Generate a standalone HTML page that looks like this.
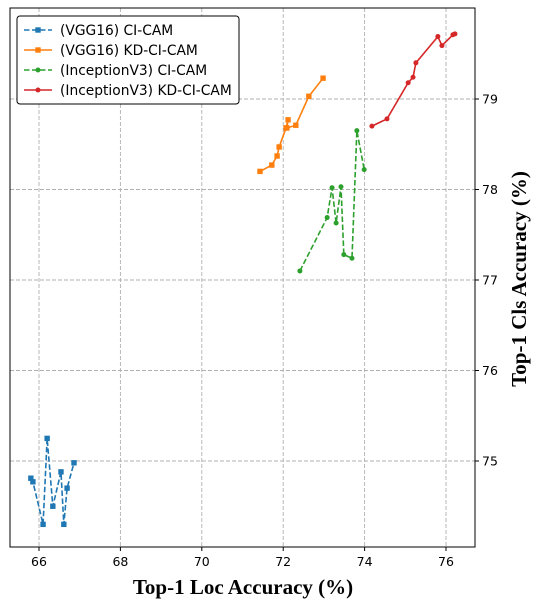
<!DOCTYPE html>
<html><head><meta charset="utf-8">
<style>
html,body{margin:0;padding:0;background:#fff;}
svg{display:block;}
text{font-family:"DejaVu Sans","Liberation Sans",sans-serif;}
.lab{font-family:"Liberation Serif",serif;font-weight:bold;font-size:21px;}
</style></head>
<body>
<svg id="chart" width="540" height="607" xmlns="http://www.w3.org/2000/svg">
<g id="grid"></g>
<g id="series"></g>
<rect x="10" y="8" width="465" height="539" fill="none" stroke="#000" stroke-width="1"/>
<g id="ticks"></g>
<text class="lab" x="243" y="594" text-anchor="middle">Top-1 Loc Accuracy (%)</text>
<text class="lab" x="0" y="0" transform="translate(526,279) rotate(-90)" text-anchor="middle">Top-1 Cls Accuracy (%)</text>
<g id="legend"></g>
</svg>
<script>
const xTicks=[66,68,70,72,74,76];
const yTicks=[75,76,77,78,79];
const names=["(VGG16) CI-CAM","(VGG16) KD-CI-CAM","(InceptionV3) CI-CAM","(InceptionV3) KD-CI-CAM"];
const colors=["#1f77b4","#ff7f0e","#2ca02c","#d62728"];
const dashed=[true,false,true,false];
const markers=["s","s","o","o"];
const vggCiX=[65.80,65.85,66.10,66.20,66.34,66.54,66.61,66.69,66.86];
const vggCiY=[74.81,74.77,74.30,75.25,74.50,74.88,74.30,74.70,74.98];
const vggKdX=[71.43,71.72,71.85,71.90,72.07,72.12,72.09,72.31,72.63,72.98];
const vggKdY=[78.20,78.27,78.37,78.47,78.68,78.77,78.68,78.71,79.03,79.23];
const incCiX=[72.41,73.08,73.20,73.30,73.42,73.49,73.69,73.81,73.99];
const incCiY=[77.10,77.69,78.02,77.63,78.03,77.28,77.24,78.65,78.22];
const incKdX=[74.18,74.55,75.07,75.19,75.26,75.80,75.90,76.17,76.22];
const incKdY=[78.70,78.78,79.18,79.24,79.40,79.69,79.59,79.71,79.72];
const seriesX=[vggCiX,vggKdX,incCiX,incKdX];
const seriesY=[vggCiY,vggKdY,incCiY,incKdY];
const NS="http://www.w3.org/2000/svg";
function sx(v){return 39+(v-66)*40.7;}
function sy(v){return 461-(v-75)*90.5;}
function mk(tag,attrs,parent){const e=document.createElementNS(NS,tag);for(const k in attrs)e.setAttribute(k,attrs[k]);parent.appendChild(e);return e;}
const grid=document.getElementById('grid'),ticks=document.getElementById('ticks'),ser=document.getElementById('series'),leg=document.getElementById('legend');
xTicks.forEach(t=>{const x=sx(t);
 const g=mk('line',{x1:x,x2:x,y1:8,y2:547,stroke:'#b0b0b0','stroke-dasharray':'4,2','stroke-width':0.9},grid);
 
 
 const tk=mk('line',{x1:x,x2:x,y1:547,y2:551,stroke:'#000'},ticks);
 
 
 const tx=mk('text',{x:x,y:566,'text-anchor':'middle','font-size':12.5},ticks);tx.textContent=t;
 
 
});
yTicks.forEach(t=>{const y=sy(t);
 const g=mk('line',{x1:10,x2:475,y1:y,y2:y,stroke:'#b0b0b0','stroke-dasharray':'4,2','stroke-width':0.9},grid);
 
 
 const tk=mk('line',{x1:475,x2:479,y1:y,y2:y,stroke:'#000'},ticks);
 
 
 const tx=mk('text',{x:482,y:y+4.5,'font-size':12.5},ticks);tx.textContent=t;
 
 
});
function marker(p,m,x,y,c,s){
 if(m==='s'){return mk('rect',{x:x-s,y:y-s,width:2*s,height:2*s,fill:c},p);}
 return mk('circle',{cx:x,cy:y,r:s,fill:c},p);
}
seriesX.forEach((xs,i)=>{
 const g=mk('g',{},ser);
 
 
 const pts=xs.map((v,j)=>sx(v)+','+sy(seriesY[i][j])).join(' ');
 const pl=mk('polyline',{points:pts,fill:'none',stroke:colors[i],'stroke-width':1.6,'stroke-dasharray':dashed[i]?'5.5,2.5':'none'},g);
 
 
 xs.forEach((v,j)=>{const m=marker(g,markers[i],sx(v),sy(seriesY[i][j]),colors[i],markers[i]==='s'?2.7:2.5);
  
  });
});
const lb=mk('rect',{x:17,y:16,width:222,height:88,rx:3,fill:'#fff',stroke:'#000','stroke-width':1},leg);


names.forEach((n,i)=>{const y=30+i*20;
 const g=mk('g',{},leg);
 
 
 mk('line',{x1:24,x2:52,y1:y,y2:y,stroke:colors[i],'stroke-width':1.6,'stroke-dasharray':dashed[i]?'5.5,2.5':'none'},g);
 marker(g,markers[i],38,y,colors[i],markers[i]==='s'?2.7:2.5);
 const t=mk('text',{x:60,y:y+5,'font-size':13.8},g);t.textContent=n;
});
</script>
</body></html>
